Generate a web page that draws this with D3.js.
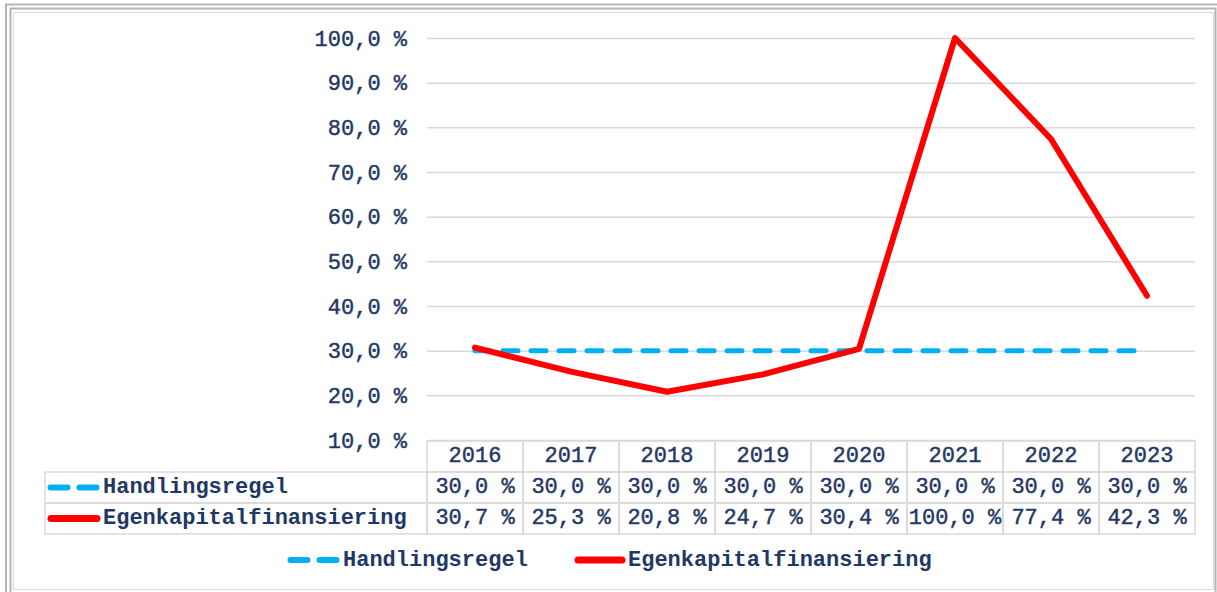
<!DOCTYPE html>
<html>
<head>
<meta charset="utf-8">
<script src="https://cdn.jsdelivr.net/npm/d3@7"></script>
<style>
  body { margin: 0; background: #fff; }
  text { font-family: "Liberation Mono", "Courier New", monospace; fill: #1f3864; }
  .num { stroke: #1f3864; stroke-width: 0.45px; }
</style>
</head>
<body>
<svg id="chart" width="1217" height="592"></svg>
<script>

let years = ['2016', '2017', '2018', '2019', '2020', '2021', '2022', '2023'],
    handlingsregel = [30.0, 30.0, 30.0, 30.0, 30.0, 30.0, 30.0, 30.0],
    egenkapital = [30.7, 25.3, 20.8, 24.7, 30.4, 100.0, 77.4, 42.3],
    y_ticks = [10, 20, 30, 40, 50, 60, 70, 80, 90, 100];

let series = [
    { name: 'Handlingsregel', values: handlingsregel, color: '#00b0f0', width: 5, dash: '15 13' },
    { name: 'Egenkapitalfinansiering', values: egenkapital, color: '#ff0000', width: 6, dash: null }
];

let svg = d3.select('#chart');

let plot_left = 427,
    plot_right = 1195,
    plot_top = 38,     // y of 100 %
    plot_bottom = 440, // y of 10 %
    row_h = 31,
    font_size = 22;

let fmt = v => d3.format('.1f')(v).replace('.', ',') + ' %';

// frame
svg.append('rect')
    .attr('x', 6).attr('y', 4.5).attr('width', 1220).attr('height', 620)
    .attr('fill', 'none').attr('stroke', '#b4b4b4').attr('stroke-width', 2);
svg.append('rect')
    .attr('x', 10.5).attr('y', 8.5).attr('width', 1205).attr('height', 620)
    .attr('fill', 'none').attr('stroke', '#b4b4b4').attr('stroke-width', 2);
svg.append('rect')
    .attr('x', 13.5).attr('y', 12.5).attr('width', 1200).attr('height', 577)
    .attr('fill', '#fff').attr('stroke', '#d9d9d9').attr('stroke-width', 1);

let x = d3.scaleBand()
    .domain(years)
    .range([plot_left, plot_right]);

let y = d3.scaleLinear()
    .domain([10, 100])
    .range([plot_bottom, plot_top]);

// grid + tick labels
let y_axis = svg.append('g')
    .attr('transform', 'translate(' + plot_left + ',0)')
    .call(d3.axisLeft(y)
        .tickValues(y_ticks)
        .tickSize(-(plot_right - plot_left))
        .tickPadding(20)
        .tickFormat(fmt));

y_axis.select('.domain').remove();
y_axis.selectAll('.tick line')
    .attr('stroke', '#d9d9d9')
    .attr('stroke-width', 1.5);
y_axis.selectAll('.tick text')
    .attr('class', 'num')
    .attr('font-size', font_size)
    .attr('font-family', '"Liberation Mono", monospace')
    .attr('fill', '#1f3864');

// lines
let line = d3.line()
    .x((d, i) => x(years[i]) + x.bandwidth() / 2)
    .y(d => y(d));

series.forEach(s => {
    svg.append('path')
        .datum(s.values)
        .attr('d', line)
        .attr('fill', 'none')
        .attr('stroke', s.color)
        .attr('stroke-width', s.width)
        .attr('stroke-linecap', 'round')
        .attr('stroke-linejoin', 'round')
        .attr('stroke-dasharray', s.dash);
});

// data table
let table = svg.append('g'),
    table_top = plot_bottom + 1,
    label_left = 45;

let grid_color = '#d9d9d9';

// header cells
years.forEach(yr => {
    table.append('rect')
        .attr('x', x(yr)).attr('y', table_top)
        .attr('width', x.bandwidth()).attr('height', row_h)
        .attr('fill', 'none').attr('stroke', grid_color).attr('stroke-width', 1.5);
    table.append('text')
        .attr('class', 'num')
        .attr('x', x(yr) + x.bandwidth() / 2)
        .attr('y', table_top + row_h / 2 + 5)
        .attr('text-anchor', 'middle')
        .attr('font-size', font_size)
        .text(yr);
});

function legend_key (g, s, x0, y0, len) {
    if (s.dash) {
        g.append('line')
            .attr('x1', x0 + 2.5).attr('x2', x0 + len)
            .attr('y1', y0).attr('y2', y0)
            .attr('stroke', s.color)
            .attr('stroke-width', s.width + 1)
            .attr('stroke-linecap', 'round')
            .attr('stroke-dasharray', '17 12');
    } else {
        g.append('line')
            .attr('x1', x0 + 3).attr('x2', x0 + len - 3)
            .attr('y1', y0).attr('y2', y0)
            .attr('stroke', s.color)
            .attr('stroke-width', s.width + 1)
            .attr('stroke-linecap', 'round');
    }
}

series.forEach((s, r) => {
    let ry = table_top + row_h * (r + 1);

    table.append('rect')
        .attr('x', label_left).attr('y', ry)
        .attr('width', plot_left - label_left).attr('height', row_h)
        .attr('fill', 'none').attr('stroke', grid_color).attr('stroke-width', 1.5);

    legend_key(table, s, 48, ry + row_h / 2, 52);

    table.append('text')
        .attr('x', 103)
        .attr('y', ry + row_h / 2 + 5)
        .attr('font-size', font_size)
        .attr('font-weight', 'bold')
        .text(s.name);

    s.values.forEach((v, i) => {
        table.append('rect')
            .attr('x', x(years[i])).attr('y', ry)
            .attr('width', x.bandwidth()).attr('height', row_h)
            .attr('fill', 'none').attr('stroke', grid_color).attr('stroke-width', 1.5);
        table.append('text')
            .attr('class', 'num')
            .attr('x', x(years[i]) + x.bandwidth() / 2)
            .attr('y', ry + row_h / 2 + 5)
            .attr('text-anchor', 'middle')
            .attr('font-size', font_size)
            .text(fmt(v));
    });
});

// bottom legend
let legend = svg.append('g'),
    legend_pos = [[288, 343], [575, 628]];

series.forEach((s, i) => {
    legend_key(legend, s, legend_pos[i][0], 560, 50);
    legend.append('text')
        .attr('x', legend_pos[i][1])
        .attr('y', 566)
        .attr('font-size', font_size)
        .attr('font-weight', 'bold')
        .text(s.name);
});

</script>
</body>
</html>
